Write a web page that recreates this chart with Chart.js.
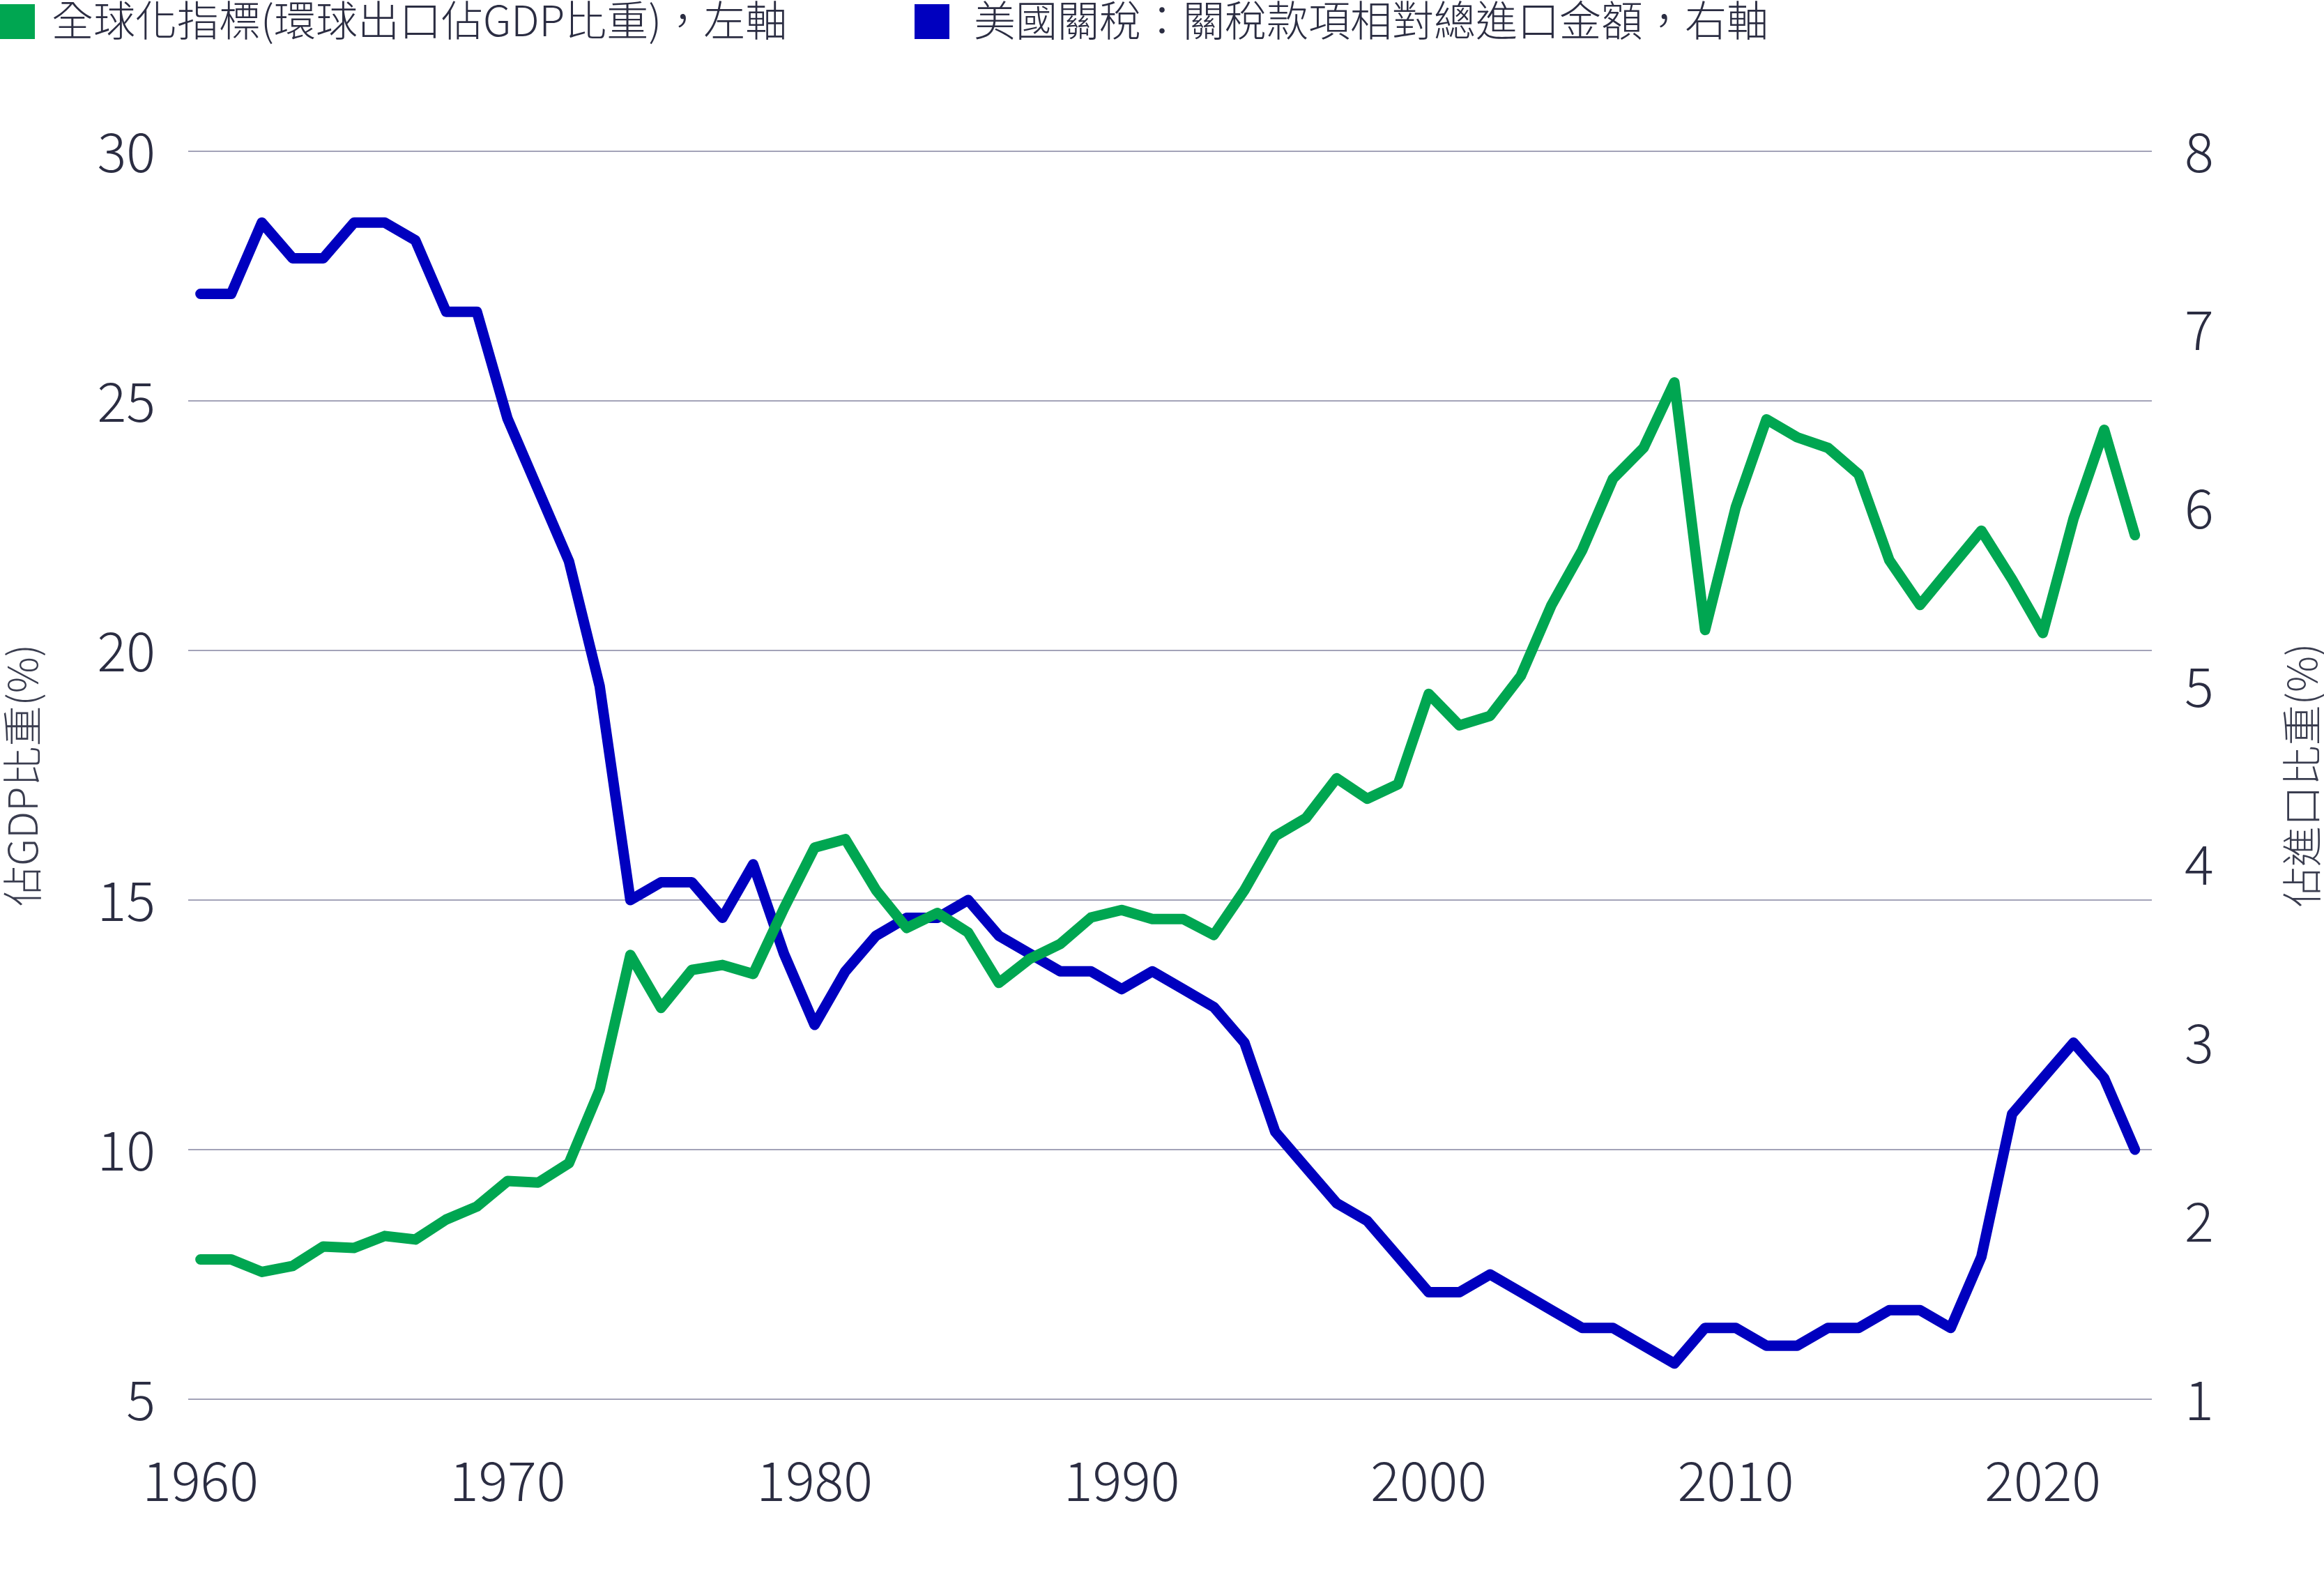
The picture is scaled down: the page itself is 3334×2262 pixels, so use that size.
<!DOCTYPE html>
<html>
<head>
<meta charset="utf-8">
<script src="https://cdn.jsdelivr.net/npm/chart.js@4"></script>
<style>
  body { margin: 0; background: #fff; }
  #wrap { position: relative; width: 3334px; height: 2262px; }
  #chart { position: absolute; left: 0; top: 0; }
  .legend { position: absolute; top: 0; left: 0; font: 300 60px 'Noto Sans CJK TC', sans-serif; color: #2b2d42; line-height: 60px; white-space: nowrap; }
  .legend span.box { position: absolute; top: 6px; width: 50px; height: 50px; }
  .legend span.txt { position: absolute; top: -4px; }
</style>
</head>
<body>
<div id="wrap">
  <canvas id="chart" width="3334" height="2262"></canvas>
  <div class="legend">
    <span class="box" style="left:0;background:#00a651"></span>
    <span class="txt" style="left:74px">全球化指標(環球出口佔GDP比重)，左軸</span>
    <span class="box" style="left:1312px;background:#0000bf"></span>
    <span class="txt" style="left:1397px">美國關稅：關稅款項相對總進口金額，右軸</span>
  </div>
</div>
<script>
// 1960 - 2023, annual
const years = []
for (let y = 1960; y <= 2023; y++) years.push(y)

// Globalization index: world exports as % of GDP (left axis)
const globalization = [
  7.8, 7.8, 7.55, 7.67, 8.06, 8.03, 8.27, 8.2, 8.6, 8.86,
  9.37, 9.34, 9.73, 11.2, 13.9, 12.84, 13.6, 13.7, 13.52, 14.83,
  16.05, 16.22, 15.2, 14.44, 14.74, 14.35, 13.34, 13.82, 14.12, 14.65,
  14.8, 14.62, 14.62, 14.3, 15.2, 16.28, 16.64, 17.44, 17.03, 17.32,
  19.13, 18.5, 18.69, 19.49, 20.91, 22.01, 23.44, 24.06, 25.37, 20.41,
  22.87, 24.63, 24.27, 24.06, 23.53, 21.81, 20.91, 21.66, 22.4, 21.42,
  20.35, 22.64, 24.42, 22.31
]

// US tariffs: duties collected as % of total imports (right axis)
const tariffs = [
  7.2, 7.2, 7.6, 7.4, 7.4, 7.6, 7.6, 7.5, 7.1, 7.1,
  6.5, 6.1, 5.7, 5.0, 3.8, 3.9, 3.9, 3.7, 4.0, 3.5,
  3.1, 3.4, 3.6, 3.7, 3.7, 3.8, 3.6, 3.5, 3.4, 3.4,
  3.3, 3.4, 3.3, 3.2, 3.0, 2.5, 2.3, 2.1, 2.0, 1.8,
  1.6, 1.6, 1.7, 1.6, 1.5, 1.4, 1.4, 1.3, 1.2, 1.4,
  1.4, 1.3, 1.3, 1.4, 1.4, 1.5, 1.5, 1.4, 1.8, 2.6,
  2.8, 3.0, 2.8, 2.4
]

const xTicks = [1960, 1970, 1980, 1990, 2000, 2010, 2020]
const leftTitle = '佔GDP比重(%)'
const rightTitle = '佔進口比重(%)'

const textColor = '#2b2d42'
const gridColor = '#a3a3b8'
const tickFont = { family: "'Noto Sans CJK TC', sans-serif", size: 78, weight: 300 }

// axis titles both read bottom-to-top, so draw them by hand
const axisTitles = {
  id: 'axisTitles',
  afterDraw(chart) {
    const { ctx, chartArea } = chart
    const cy = (chartArea.top + chartArea.bottom) / 2
    ctx.save()
    ctx.fillStyle = '#3a3d4f'
    ctx.font = "300 58px 'Noto Sans CJK TC', sans-serif"
    ctx.textAlign = 'center'
    ctx.textBaseline = 'middle'
    ;[[32, leftTitle], [3302, rightTitle]].forEach(([x, t]) => {
      ctx.save()
      ctx.translate(x, cy)
      ctx.rotate(-Math.PI / 2)
      ctx.fillText(t, 0, 0)
      ctx.restore()
    })
    ctx.restore()
  }
}

new Chart(document.getElementById('chart'), {
  type: 'line',
  data: {
    datasets: [
      {
        label: '全球化指標(環球出口佔GDP比重)，左軸',
        data: years.map((y, i) => ({ x: y, y: globalization[i] })),
        borderColor: '#00a651',
        yAxisID: 'y'
      },
      {
        label: '美國關稅：關稅款項相對總進口金額，右軸',
        data: years.map((y, i) => ({ x: y, y: tariffs[i] })),
        borderColor: '#0000bf',
        yAxisID: 'y2'
      }
    ].map(ds => ({
      ...ds,
      borderWidth: 15,
      pointRadius: 0,
      tension: 0,
      borderJoinStyle: 'round',
      borderCapStyle: 'round',
      clip: false
    }))
  },
  options: {
    responsive: false,
    animation: false,
    layout: { padding: { top: 217, left: 0, right: 0, bottom: 0 } },
    plugins: {
      legend: { display: false },
      tooltip: { enabled: false }
    },
    scales: {
      x: {
        type: 'linear',
        min: 1959.6,
        max: 2023.55,
        afterBuildTicks: s => { s.ticks = xTicks.map(v => ({ value: v })) },
        afterFit: s => { s.height = 255 },
        grid: { display: false, drawTicks: false },
        border: { display: false },
        ticks: {
          font: tickFont,
          color: textColor,
          padding: 70,
          maxRotation: 0,
          autoSkip: false,
          callback: v => String(v)
        }
      },
      y: {
        position: 'left',
        min: 5,
        max: 30,
        afterFit: s => { s.width = 270 },
        grid: { color: gridColor, lineWidth: 2, drawTicks: false },
        border: { display: false },
        ticks: { stepSize: 5, font: tickFont, color: textColor, padding: 47 }
      },
      y2: {
        position: 'right',
        min: 1,
        max: 8,
        afterFit: s => { s.width = 247 },
        grid: { display: false, drawTicks: false },
        border: { display: false },
        ticks: { stepSize: 1, font: tickFont, color: textColor, padding: 47 }
      }
    }
  },
  plugins: [axisTitles]
})
</script>
</body>
</html>
